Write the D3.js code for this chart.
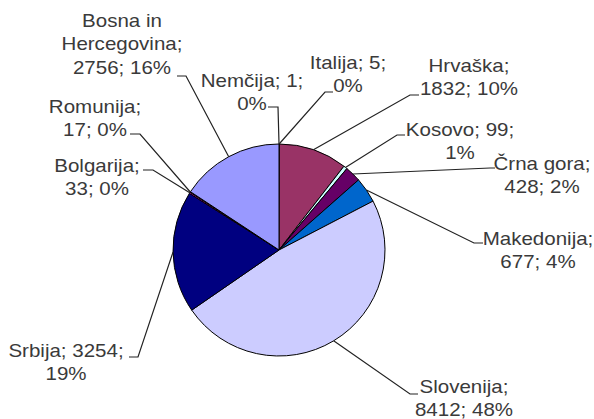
<!DOCTYPE html>
<html>
<head>
<meta charset="utf-8">
<script src="https://cdn.jsdelivr.net/npm/d3@7"></script>
<style>
  body { margin: 0; background: #fff; }
  svg { display: block; }
  .lbl { font-family: "Liberation Sans", Arial, sans-serif; font-size: 18px; fill: #3a3a3a; }
</style>
</head>
<body>
<svg id="chart" width="594" height="419"></svg>
<script>
// data, clockwise from 12 o'clock
let countries = ["Nemčija", "Italija", "Hrvaška", "Kosovo", "Črna gora", "Makedonija", "Slovenija", "Srbija", "Bolgarija", "Romunija", "Bosna in Hercegovina"]
let values = [1, 5, 1832, 99, 428, 677, 8412, 3254, 33, 17, 2756]
let percents = ["0%", "0%", "10%", "1%", "2%", "4%", "48%", "19%", "0%", "0%", "16%"]
let colors = ["#FF8080", "#FFFFCC", "#993366", "#CCFFFF", "#660066", "#0066CC", "#CCCCFF", "#000080", "#FF00FF", "#FFFF00", "#9999FF"]

// label placement: centre x, first baseline, words per line, leader start and elbow
let labelLayout = [
    { x: 252, y: 87, words: [2, 1], ax: 268, ay: 107, dx: 10 },
    { x: 348, y: 69, words: [2, 1], ax: 333, ay: 92, dx: -8 },
    { x: 469, y: 72, words: [1, 2], ax: 419, ay: 95, dx: -9 },
    { x: 460, y: 136, words: [2, 1], ax: 405, ay: 135, dx: -8 },
    { x: 542, y: 170, words: [2, 2], ax: 495, ay: 168, dx: -5 },
    { x: 538, y: 245, words: [1, 2], ax: 483, ay: 243, dx: -9 },
    { x: 464, y: 393, words: [1, 2], ax: 418, ay: 394, dx: -8 },
    { x: 66, y: 357, words: [2, 1], ax: 129, ay: 357, dx: 9 },
    { x: 97, y: 172, words: [1, 2], ax: 143, ay: 170, dx: 10 },
    { x: 95, y: 113, words: [1, 2], ax: 130, ay: 134, dx: 10 },
    { x: 122, y: 27, words: [2, 1, 2], ax: 177, ay: 76, dx: 9 }
]

let svg = d3.select("#chart")
let cx = 279, cy = 250, radius = 106
let lineHeight = 23.5

let pie = d3.pie().sort(null).value(d => d.value)
let arc = d3.arc().innerRadius(0).outerRadius(radius)

let slices = pie(countries.map((c, i) => ({ name: c, value: values[i], pct: percents[i], color: colors[i], layout: labelLayout[i] })))

let pieGroup = svg.append("g").attr("transform", `translate(${cx},${cy})`)

pieGroup.selectAll("path")
    .data(slices)
    .join("path")
    .attr("d", arc)
    .attr("fill", d => d.data.color)
    .attr("stroke", "#000")
    .attr("stroke-width", 1)
    .attr("stroke-linejoin", "round")

// leader lines from label to slice edge
svg.append("g").selectAll("path")
    .data(slices)
    .join("path")
    .attr("fill", "none")
    .attr("stroke", "#222")
    .attr("stroke-width", 1.2)
    .attr("d", d => {
        let mid = (d.startAngle + d.endAngle) / 2
        let px = cx + radius * Math.sin(mid)
        let py = cy - radius * Math.cos(mid)
        let l = d.data.layout
        return `M${l.ax},${l.ay}H${l.ax + l.dx}L${px},${py}`
    })

// labels
let labels = svg.append("g").selectAll("g")
    .data(slices)
    .join("g")
    .attr("transform", d => `translate(${d.data.layout.x},${d.data.layout.y}) scale(1.14,1)`)

labels.each(function (d) {
    let words = `${d.data.name}; ${d.data.value}; ${d.data.pct}`.split(" ")
    let lines = []
    let k = 0
    d.data.layout.words.forEach(n => {
        lines.push(words.slice(k, k + n).join(" "))
        k += n
    })
    d3.select(this).selectAll("text")
        .data(lines)
        .join("text")
        .attr("class", "lbl")
        .attr("text-anchor", "middle")
        .attr("x", 0)
        .attr("y", (t, i) => i * lineHeight)
        .text(t => t)
})
</script>
</body>
</html>
